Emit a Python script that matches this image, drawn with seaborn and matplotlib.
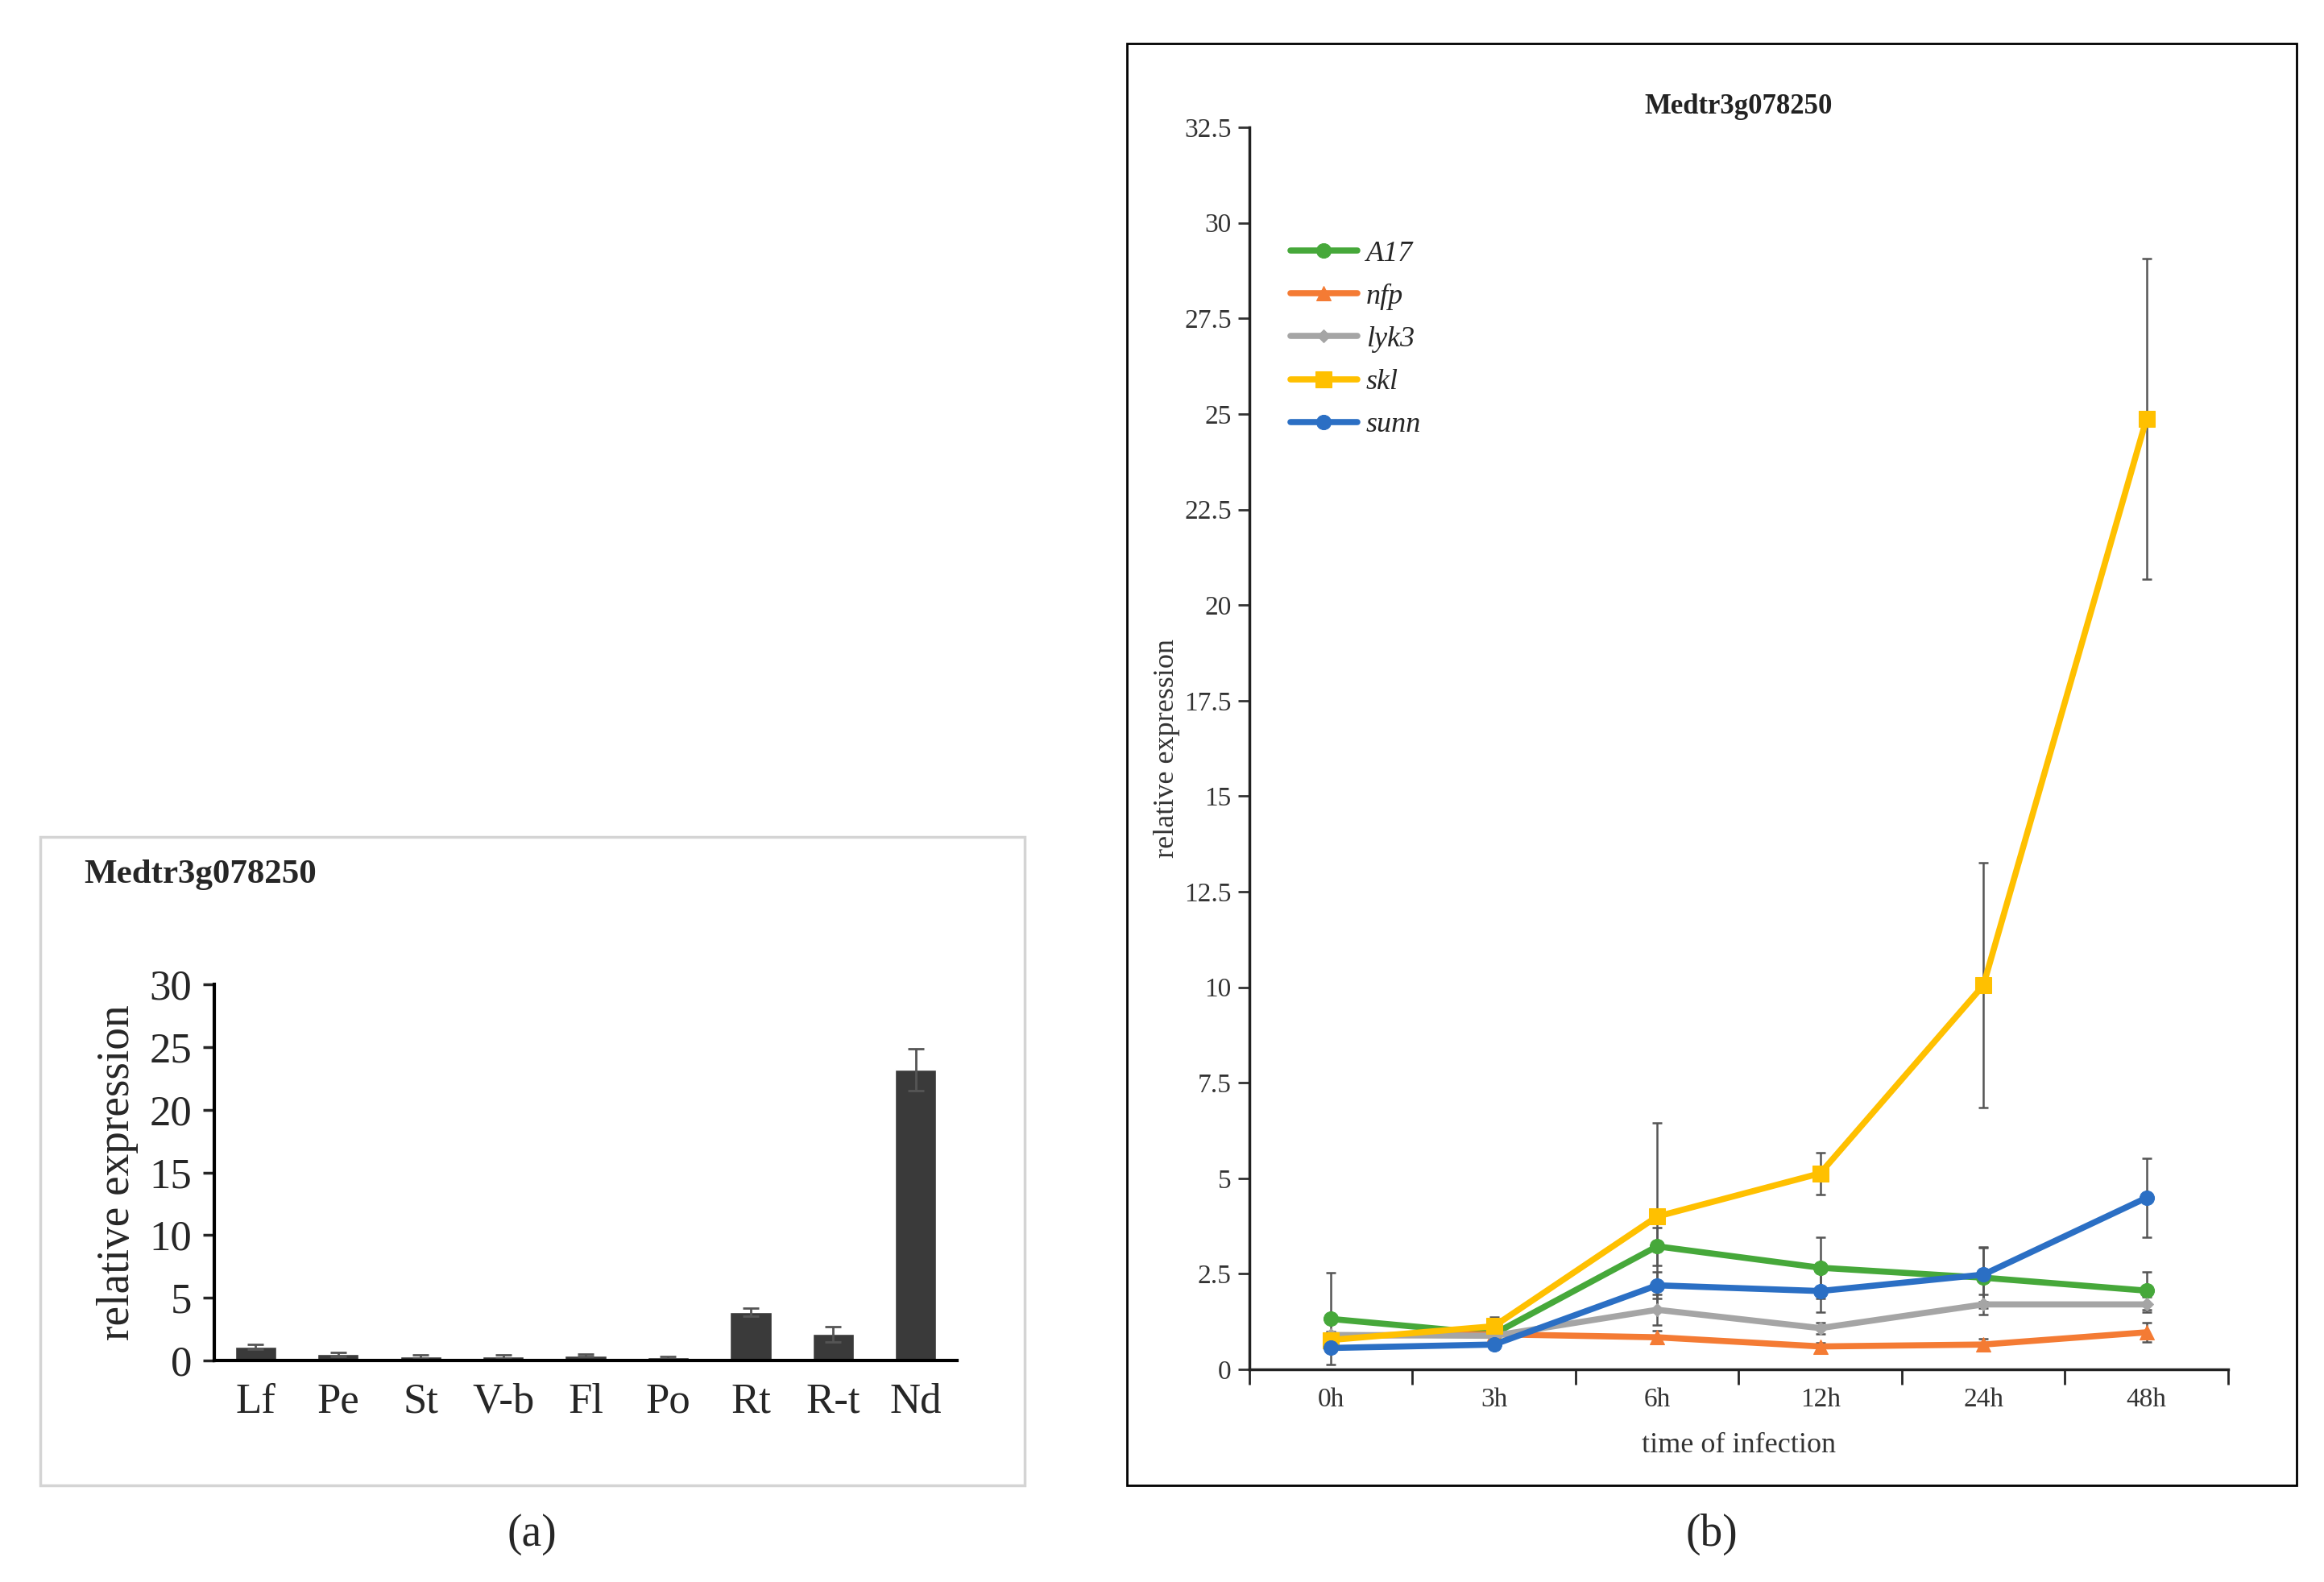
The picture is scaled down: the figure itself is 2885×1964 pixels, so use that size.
import numpy as np
import pandas as pd
import seaborn as sns
import matplotlib.pyplot as plt
from matplotlib.patches import Rectangle

# ---- panel (a) data: tissue expression
tissues = ['Lf', 'Pe', 'St', 'V-b', 'Fl', 'Po', 'Rt', 'R-t', 'Nd']
tissue_expr = [1.07, 0.5, 0.3, 0.3, 0.42, 0.24, 3.85, 2.1, 23.2]
tissue_err = [0.2, 0.15, 0.15, 0.15, 0.1, 0.08, 0.3, 0.6, 1.65]

# ---- panel (b) data: time course
times = ['0h', '3h', '6h', '12h', '24h', '48h']
a17 = [1.32, 0.93, 3.22, 2.66, 2.4, 2.06]
a17_err = [1.2, 0.15, 0.5, 0.8, 0.8, 0.5]
nfp = [0.88, 0.92, 0.84, 0.6, 0.65, 0.97]
nfp_err = [0.1, 0.1, 0.17, 0.1, 0.15, 0.25]
lyk3 = [0.9, 0.88, 1.56, 1.08, 1.7, 1.7]
lyk3_err = [0.1, 0.1, 0.4, 0.15, 0.27, 0.2]
skl = [0.77, 1.13, 4.0, 5.13, 10.05, 24.87]
skl_err = [0.1, 0.25, 2.45, 0.55, 3.2, 4.2]
sunn = [0.56, 0.65, 2.2, 2.05, 2.48, 4.49]
sunn_err = [0.1, 0.1, 0.35, 0.55, 0.7, 1.03]

series = ['A17', 'nfp', 'lyk3', 'skl', 'sunn']
values = [a17, nfp, lyk3, skl, sunn]
errors = [a17_err, nfp_err, lyk3_err, skl_err, sunn_err]
colors = ['#46a83a', '#f47b34', '#a5a5a5', '#ffc000', '#2b6fc4']
markers = ['o', '^', 'D', 's', 'o']
msizes = [13, 13, 8, 14, 13]

sns.set_style('white')
plt.rcParams['font.family'] = ['Liberation Serif', 'DejaVu Serif']

fig = plt.figure(figsize=(28.85, 19.64), dpi=100)

# panel frames
fig.patches.append(Rectangle((0.0173, 0.0611), 0.4236, 0.4099, transform=fig.transFigure,
                             fill=False, edgecolor='#d4d4d4', linewidth=2.5))
fig.patches.append(Rectangle((0.4849, 0.0611), 0.5033, 0.9114, transform=fig.transFigure,
                             fill=False, edgecolor='black', linewidth=2))

# ---------------- panel (a)
ax1 = fig.add_axes([0.0922, 0.14, 0.3196, 0.2378])
df_a = pd.DataFrame({'tissue': tissues, 'expr': tissue_expr})
sns.barplot(data=df_a, x='tissue', y='expr', color='#3a3a3a', saturation=1,
            width=0.5, errorbar=None, ax=ax1)
ax1.errorbar(np.arange(len(tissues)), tissue_expr, yerr=tissue_err, fmt='none',
             ecolor='#555555', elinewidth=2, capsize=7, capthick=2)
ax1.set_xlim(-0.5, len(tissues) - 0.5)
ax1.set_ylim(0, 30)
ax1.set_yticks(range(0, 31, 5))
ax1.set_xlabel('')
ax1.set_ylabel('relative expression', fontsize=40, labelpad=10)
ax1.tick_params(axis='y', labelsize=38, length=10, width=2.5, direction='out', pad=10, left=True)
ax1.tick_params(axis='x', labelsize=38, length=0, pad=20)
for s in ['top', 'right']:
    ax1.spines[s].set_visible(False)
for s in ['left', 'bottom']:
    ax1.spines[s].set_linewidth(3)
    ax1.spines[s].set_color('black')
fig.text(0.036, 0.447, 'Medtr3g078250', fontsize=31, fontweight='bold', va='center', ha='left')
fig.text(0.229, 0.030, '(a)', fontsize=40, ha='center', va='center')

# ---------------- panel (b)
ax2 = fig.add_axes([0.5376, 0.1344, 0.4211, 0.7851])
x = np.arange(len(times))
for name, vals, errs, c, m, ms in zip(series, values, errors, colors, markers, msizes):
    ax2.errorbar(x, vals, yerr=errs, fmt='none', ecolor='#555555', elinewidth=1.8,
                 capsize=4, capthick=1.8, zorder=1)
    sns.lineplot(x=x, y=vals, color=c, marker=m, markersize=ms, markeredgecolor=c,
                 linewidth=5.5, label=name, ax=ax2, zorder=3)

ax2.set_xlim(-0.5, len(times) - 0.5)
ax2.set_ylim(0, 32.5)
yt = np.arange(0, 32.6, 2.5)
ax2.set_yticks(yt)
ax2.set_yticklabels(['{:g}'.format(v) for v in yt])
ax2.set_xticks(np.arange(-0.5, len(times), 1.0))
ax2.set_xticklabels([])
ax2.set_xticks(x, minor=True)
ax2.set_xticklabels(times, minor=True)
ax2.tick_params(axis='x', which='major', length=14, width=2, direction='out', bottom=True)
ax2.tick_params(axis='x', which='minor', length=0, labelsize=24, pad=16, colors='#333333')
ax2.tick_params(axis='y', labelsize=24, length=10, width=2, direction='out', left=True,
                colors='#333333', pad=6)
for s in ['top', 'right']:
    ax2.spines[s].set_visible(False)
for s in ['left', 'bottom']:
    ax2.spines[s].set_linewidth(2.5)
    ax2.spines[s].set_color('#222222')
ax2.set_xlabel('time of infection', fontsize=26, labelpad=18, color='#333333')
ax2.set_ylabel('relative expression', fontsize=26, labelpad=4, color='#333333')
ax2.set_title('Medtr3g078250', fontsize=25, fontweight='bold', pad=12, color='#222222')

leg = ax2.legend(loc='upper left', bbox_to_anchor=(0.015, 0.93), frameon=False,
                 handlelength=2.3, handletextpad=0.3, labelspacing=0.55,
                 prop={'style': 'italic', 'size': 26})
fig.text(0.7365, 0.030, '(b)', fontsize=40, ha='center', va='center')

fig.savefig('out.png', dpi=100)
